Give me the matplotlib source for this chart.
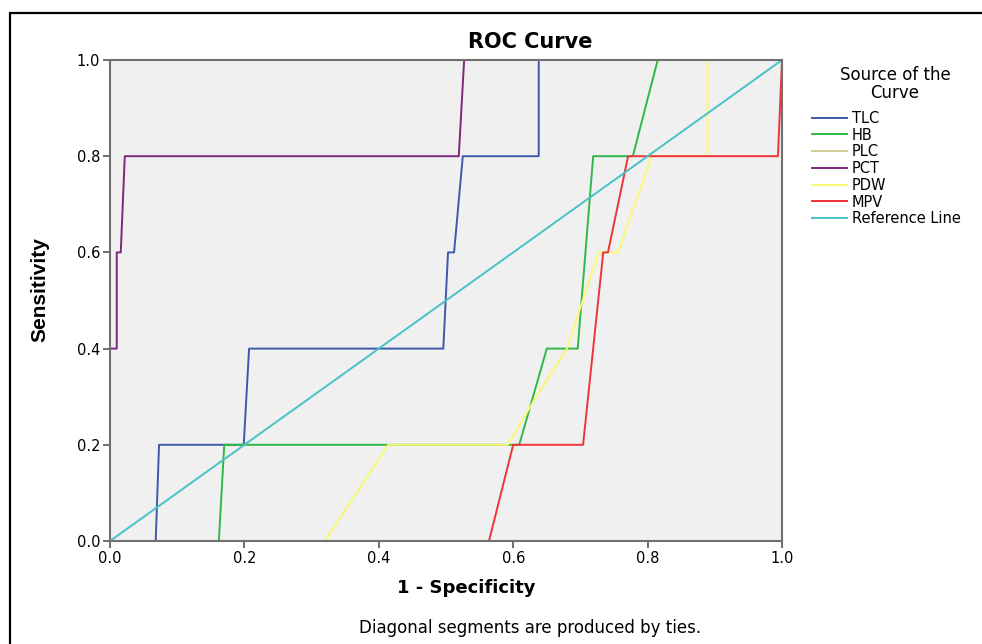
import matplotlib.pyplot as plt
from matplotlib.patches import Rectangle

plt.rcParams['font.family'] = ['DejaVu Sans']

# ROC points (1 - specificity, sensitivity)
tlc_x = [0.0, 0.068, 0.073, 0.199, 0.207, 0.496, 0.503, 0.512, 0.525, 0.638, 0.638, 1.0]
tlc_y = [0.0, 0.0, 0.2, 0.2, 0.4, 0.4, 0.6, 0.6, 0.8, 0.8, 1.0, 1.0]

hb_x = [0.0, 0.162, 0.170, 0.609, 0.650, 0.696, 0.719, 0.778, 0.815, 1.0]
hb_y = [0.0, 0.0, 0.2, 0.2, 0.4, 0.4, 0.8, 0.8, 1.0, 1.0]

plc_x = [0.0, 0.0, 1.0]
plc_y = [0.0, 1.0, 1.0]

pct_x = [0.0, 0.0, 0.01, 0.01, 0.016, 0.022, 0.519, 0.527, 1.0]
pct_y = [0.0, 0.4, 0.4, 0.6, 0.6, 0.8, 0.8, 1.0, 1.0]

pdw_x = [0.0, 0.32, 0.414, 0.592, 0.63, 0.68, 0.727, 0.756, 0.806, 0.889, 0.889, 1.0]
pdw_y = [0.0, 0.0, 0.2, 0.2, 0.29, 0.4, 0.6, 0.6, 0.8, 0.8, 1.0, 1.0]

mpv_x = [0.0, 0.564, 0.600, 0.704, 0.734, 0.741, 0.771, 0.994, 1.0]
mpv_y = [0.0, 0.0, 0.2, 0.2, 0.6, 0.6, 0.8, 0.8, 1.0]

ref_x = [0.0, 1.0]
ref_y = [0.0, 1.0]

curves = [
    ('TLC', tlc_x, tlc_y, '#3e58ac'),
    ('HB', hb_x, hb_y, '#2eb848'),
    ('PLC', plc_x, plc_y, '#d3ce97'),
    ('PCT', pct_x, pct_y, '#7c287d'),
    ('PDW', pdw_x, pdw_y, '#fbf873'),
    ('MPV', mpv_x, mpv_y, '#ef3338'),
    ('Reference Line', ref_x, ref_y, '#48c2c5'),
]

fig = plt.figure(figsize=(9.82, 6.44), dpi=100)
ax = fig.add_axes([110 / 982, 1 - 541 / 644, 672 / 982, 481 / 644])
ax.set_facecolor('#f0f0f0')

for name, xs, ys, col in curves:
    ax.plot(xs, ys, color=col, lw=1.4, label=name, clip_on=False)

ax.set_xlim(0, 1)
ax.set_ylim(0, 1)
ticks = [0.0, 0.2, 0.4, 0.6, 0.8, 1.0]
ax.set_xticks(ticks)
ax.set_yticks(ticks)
ax.set_xticklabels(['%.1f' % t for t in ticks])
ax.set_yticklabels(['%.1f' % t for t in ticks])
ax.tick_params(direction='out', length=5, width=1.2, color='#555555',
               labelsize=10.5, pad=2)
for s in ax.spines.values():
    s.set_color('#707070')
    s.set_linewidth(1.5)

fig.text(530 / 982, 1 - 42 / 644, 'ROC Curve', ha='center', va='center',
         fontsize=15, fontweight='bold')
fig.text(466 / 982, 1 - 588 / 644, '1 - Specificity', ha='center', va='center',
         fontsize=13, fontweight='bold')
fig.text(40 / 982, 1 - 290 / 644, 'Sensitivity', ha='center', va='center',
         rotation=90, fontsize=15, fontweight='bold',
         family=['Liberation Sans Narrow', 'Liberation Sans'])
fig.text(530 / 982, 1 - 628 / 644, 'Diagonal segments are produced by ties.',
         ha='center', va='center', fontsize=12)

# legend title drawn separately so the two lines are centred
fig.text(895 / 982, 1 - 84 / 644, 'Source of the\nCurve', ha='center',
         va='center', multialignment='center', fontsize=12, linespacing=0.95)
leg = fig.legend(loc='upper left', bbox_to_anchor=(806 / 982, 1 - 105 / 644),
                 frameon=False, fontsize=10.5, handlelength=2.4,
                 handletextpad=0.35, labelspacing=0.12, borderaxespad=0)

# outer frame of the output viewer
fig.patches.append(Rectangle((10 / 982, -0.2), 1.2, 0.2 + 1 - 13 / 644,
                             transform=fig.transFigure, fill=False,
                             edgecolor='black', lw=1.6))

fig.savefig('out.png', dpi=100)
